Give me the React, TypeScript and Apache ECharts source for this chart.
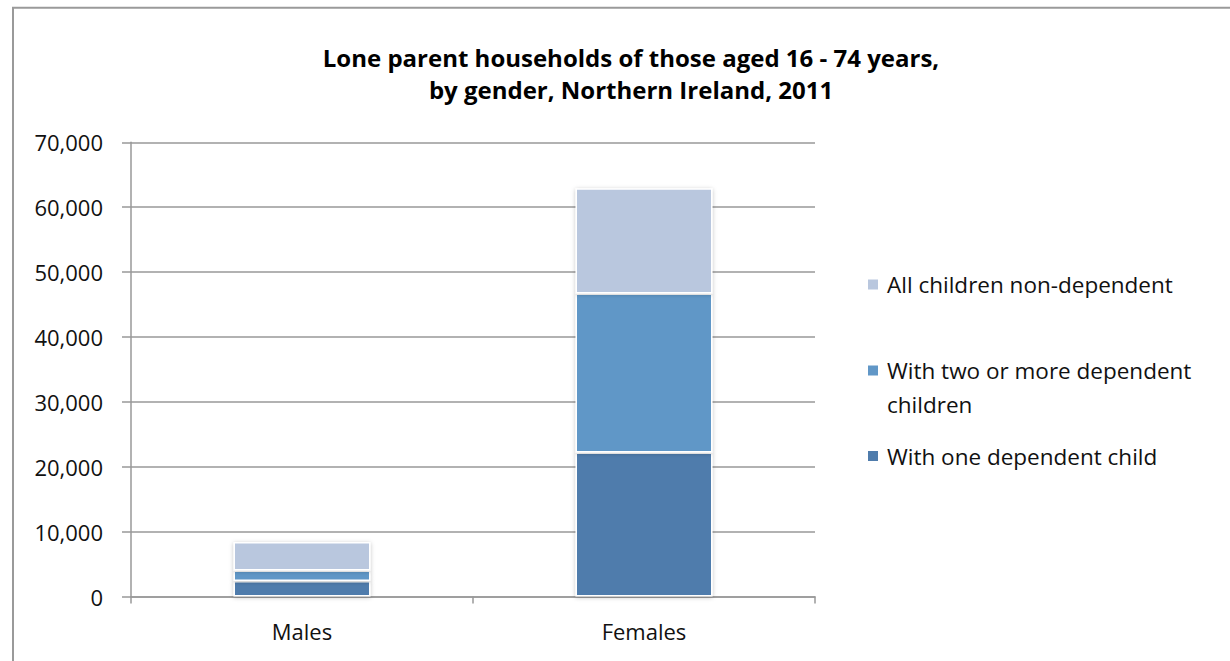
import React, { useEffect, useRef } from "react";
import * as echarts from "echarts";

const TITLE = "Lone parent households of those aged 16 - 74 years,\nby gender, Northern Ireland, 2011";
const categories = ["Males", "Females"];
const seriesNames = [
  "With one dependent child",
  "With two or more dependent children",
  "All children non-dependent",
];
const oneDependent = [2400, 22200];
const twoOrMore = [1600, 24500];
const nonDependent = [4400, 16200];
const yTicks = { min: 0, max: 70000, interval: 10000 };
const colors = ["#4F7CAC", "#6197C7", "#B9C7DE"];

const FONT = "'Open Sans', 'Noto Sans', sans-serif";

export default function App() {
  const ref = useRef<HTMLDivElement>(null);
  useEffect(() => {
    if (!ref.current) return;
    const chart = echarts.init(ref.current, null, { renderer: "svg" });
    const values = [oneDependent, twoOrMore, nonDependent];
    const barStyle = {
      borderColor: "#ffffff",
      borderWidth: 1.5,
      shadowBlur: 4,
      shadowColor: "rgba(0,0,0,0.25)",
      shadowOffsetX: 0,
      shadowOffsetY: 1,
    };
    const legendText = { fontFamily: FONT, fontSize: 22.5, color: "#111", padding: [0, 0, 0, 3] };
    const legendBase = {
      left: 866,
      padding: 0,
      itemWidth: 12,
      itemHeight: 12,
      icon: "rect",
      selectedMode: false,
      textStyle: legendText,
    };
    chart.setOption({
      animation: false,
      backgroundColor: "#ffffff",
      color: colors,
      textStyle: { fontFamily: FONT },
      title: {
        text: TITLE,
        left: 626,
        textAlign: "center",
        top: 36,
        textStyle: {
          fontFamily: FONT,
          fontSize: 24,
          fontWeight: "bold",
          color: "#000",
          lineHeight: 32,
        },
      },
      graphic: [
        {
          type: "rect",
          shape: { x: 13, y: 7.7, width: 1400, height: 800 },
          style: { fill: "none", stroke: "#9a9a9a", lineWidth: 2 },
          silent: true,
          z: -10,
        },
        {
          type: "text",
          x: 887,
          y: 404,
          style: {
            text: "children",
            fontFamily: FONT,
            fontSize: 22.5,
            fill: "#111",
            verticalAlign: "middle",
            align: "left",
          },
          silent: true,
        },
      ],
      grid: { left: 131, right: 415, top: 142.3, bottom: 64.5 },
      xAxis: {
        type: "category",
        data: categories,
        axisLine: { lineStyle: { color: "#999", width: 1.5 } },
        axisTick: { show: true, length: 7, lineStyle: { color: "#999", width: 1.5 } },
        axisLabel: { fontFamily: FONT, fontSize: 22, color: "#111", margin: 23 },
      },
      yAxis: {
        type: "value",
        min: yTicks.min,
        max: yTicks.max,
        interval: yTicks.interval,
        axisLine: { show: true, lineStyle: { color: "#999", width: 1.5 } },
        axisTick: { show: true, length: 9, lineStyle: { color: "#999", width: 1.5 } },
        splitLine: { show: true, lineStyle: { color: "#999", width: 1.5 } },
        axisLabel: {
          fontFamily: FONT,
          fontSize: 22,
          color: "#111",
          margin: 28,
          formatter: (v: number) => v.toLocaleString("en-US"),
        },
      },
      legend: [
        { ...legendBase, data: [seriesNames[2]], top: 273 },
        {
          ...legendBase,
          data: [seriesNames[1]],
          top: 359,
          formatter: () => "With two or more dependent",
        },
        { ...legendBase, data: [seriesNames[0]], top: 444.5 },
      ],
      series: seriesNames.map((name, i) => ({
        name,
        type: "bar",
        stack: "total",
        barWidth: 137,
        data: values[i],
        itemStyle: { ...barStyle, color: colors[i] },
        emphasis: { disabled: true },
      })),
    });
    return () => chart.dispose();
  }, []);
  return (
    <div
      ref={ref}
      style={{ position: "absolute", left: 0, top: 0, width: 1230, height: 661 }}
    />
  );
}
